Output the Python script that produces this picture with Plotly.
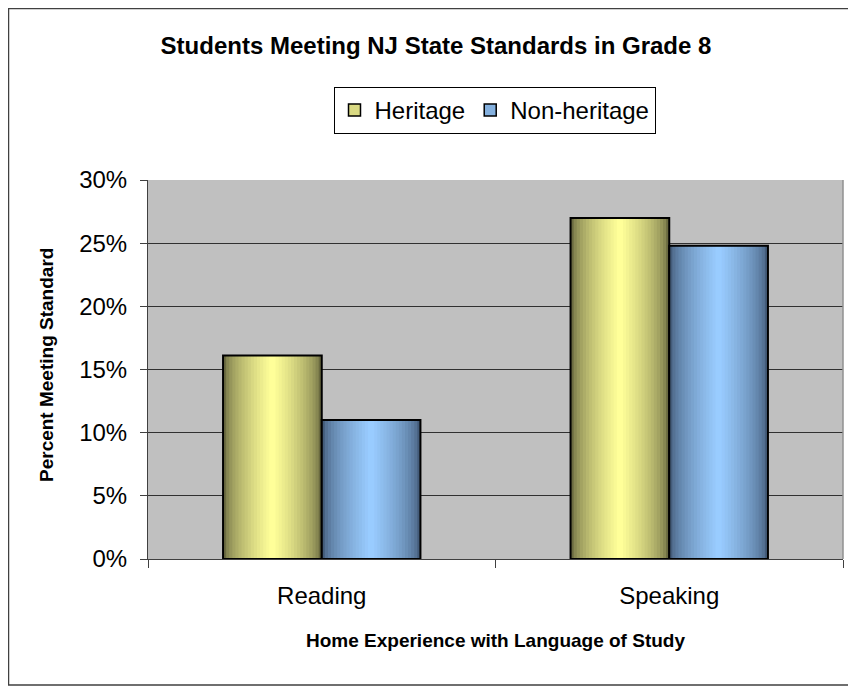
import plotly.graph_objects as go

categories = ["Reading", "Speaking"]
heritage = [0.161, 0.270]
non_heritage = [0.110, 0.248]
series_names = ["Heritage", "Non-heritage"]

FONT = "Liberation Sans, Arial, sans-serif"

# figure is placed by the page at (8, 8); sizes are in figure pixels
W_PX, H_PX = 848, 678
L, T = 140, 172
R = W_PX - 835
B = H_PX - 551
PW, PH = W_PX - L - R, H_PX - T - B


def px2x(px):
    return (px - L) / PW


def py2y(py):
    return (H_PX - B - py) / PH


def lerp(c1, c2, t):
    return "rgb(%d,%d,%d)" % tuple(round(a + (b - a) * t) for a, b in zip(c1, c2))


BAR_W = 0.284
N = 16
styles = [
    (heritage, (0x6A, 0x6A, 0x40), (0xFF, 0xFF, 0x99), -BAR_W / 2, series_names[0]),
    (non_heritage, (0x44, 0x5C, 0x7A), (0x99, 0xCC, 0xFF), BAR_W / 2, series_names[1]),
]

fig = go.Figure()
for vals, dark, light, center, name in styles:
    for k in range(N):
        w = BAR_W * (1 - k / N)
        t = (k / (N - 1)) ** 0.6
        fig.add_trace(go.Bar(
            x=categories, y=vals,
            width=[w] * len(categories),
            offset=[center - w / 2] * len(categories),
            marker=dict(color=lerp(dark, light, t), line=dict(width=0)),
            showlegend=False, name=name, hoverinfo="skip" if k else None,
        ))
    # outline
    fig.add_trace(go.Bar(
        x=categories, y=vals,
        width=[BAR_W] * len(categories),
        offset=[center - BAR_W / 2] * len(categories),
        marker=dict(color="rgba(0,0,0,0)", line=dict(color="black", width=2)),
        showlegend=False, name=name, hoverinfo="skip",
    ))
    # legend entry
    fig.add_trace(go.Bar(
        x=categories, y=[None, None], name=name,
        marker=dict(color=lerp(dark, light, 0.75), line=dict(color="black", width=1.5)),
        showlegend=True,
    ))

fig.update_layout(
    width=W_PX, height=H_PX,
    margin=dict(l=L, r=R, t=T, b=B),
    paper_bgcolor="white", plot_bgcolor="#C0C0C0",
    barmode="overlay",
    font=dict(family=FONT, size=24, color="black"),
    title=dict(text="<b>Students Meeting NJ State Standards in Grade 8</b>",
               x=428 / W_PX, xanchor="center", y=1 - 38 / H_PX, yanchor="middle",
               font=dict(size=24, family=FONT)),
    legend=dict(orientation="h", x=px2x(486.5), xanchor="center", y=py2y(79), yanchor="top",
                bordercolor="black", borderwidth=1, bgcolor="white",
                font=dict(size=24, family=FONT), itemwidth=30, tracegroupgap=0),
    xaxis=dict(type="category", range=[-0.5, 1.5], tickson="boundaries",
               ticks="outside", ticklen=8, tickcolor="#404040",
               showline=True, linecolor="#404040", linewidth=1,
               showgrid=False, tickfont=dict(size=24), ticklabelstandoff=15),
    yaxis=dict(range=[0, 0.30], dtick=0.05, tickformat=".0%",
               ticks="outside", ticklen=7, tickcolor="#404040",
               showline=True, linecolor="#404040", linewidth=1,
               showgrid=True, gridcolor="#303030", gridwidth=1,
               tickfont=dict(size=24), zeroline=False, ticklabelstandoff=8),
    showlegend=True,
    shapes=[dict(type="rect", xref="paper", yref="paper",
                 x0=px2x(0.5), x1=px2x(W_PX + 5), y0=py2y(H_PX - 1), y1=py2y(0.5),
                 line=dict(color="#404040", width=1.5), fillcolor="rgba(0,0,0,0)",
                 layer="below"),
            dict(type="line", xref="paper", yref="paper",
                 x0=1, x1=1, y0=0, y1=1, line=dict(color="#909090", width=1.5))],
    annotations=[
        dict(text="<b>Percent Meeting Standard</b>", textangle=-90,
             xref="paper", yref="paper", x=px2x(38), y=py2y(357),
             xanchor="center", yanchor="middle", showarrow=False,
             font=dict(size=19, family=FONT)),
        dict(text="<b>Home Experience with Language of Study</b>",
             xref="paper", yref="paper", x=px2x(487), y=py2y(632),
             xanchor="center", yanchor="middle", showarrow=False,
             font=dict(size=19, family=FONT)),
    ],
)

fig.write_html("out.html")
